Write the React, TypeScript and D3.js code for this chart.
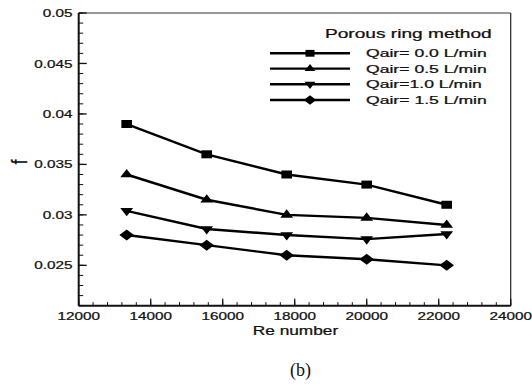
import React from "react";
import * as d3 from "d3";

// Re number at each measurement
const reNumbers = [13333, 15556, 17778, 20000, 22222];

const seriesLabels = ["Qair= 0.0 L/min", "Qair= 0.5 L/min", "Qair=1.0 L/min", "Qair= 1.5 L/min"];
const fAir00 = [0.039, 0.036, 0.034, 0.033, 0.031];
const fAir05 = [0.034, 0.0315, 0.030, 0.0297, 0.029];
const fAir10 = [0.0304, 0.0286, 0.028, 0.0276, 0.0281];
const fAir15 = [0.028, 0.027, 0.026, 0.0256, 0.025];

const xTicks = [12000, 14000, 16000, 18000, 20000, 22000, 24000];
const yTicks = [0.025, 0.03, 0.035, 0.04, 0.045, 0.05];
const yTickLabels = ["0.025", "0.03", "0.035", "0.04", "0.045", "0.05"];

const FONT = "'Liberation Sans', Arial, sans-serif";
const SX = 1.33; // the source picture is stretched sideways

const square = { draw: (p: any, size: number) => { const r = Math.sqrt(size) / 2; p.rect(-r, -r, 2 * r, 2 * r); } };
const symbols = [
  { type: square, size: 64, rot: 0 },
  { type: d3.symbolTriangle, size: 40, rot: 0 },
  { type: d3.symbolTriangle, size: 40, rot: 180 },
  { type: d3.symbolDiamond2, size: 77, rot: 0 },
];

const Marker = ({ x, y, idx, k = 1 }: { x: number; y: number; idx: number; k?: number }) => {
  const s = symbols[idx];
  const d = d3.symbol(s.type as any, s.size * k * k)() as string;
  return <path d={d} fill="black" transform={`translate(${x},${y}) scale(${SX},1) rotate(${s.rot})`} />;
};

const SText = ({ x, y, sx = SX, size, anchor = "start", children, rotate = 0 }: any) => (
  <g transform={`translate(${x},${y}) scale(${sx},1) rotate(${rotate})`}>
    <text fontFamily={FONT} fontSize={size} textAnchor={anchor} fill="#111" stroke="#111" strokeWidth={0.25}>{children}</text>
  </g>
);

const App = () => {
  const width = 532;
  const height = 384;
  const left = 78.7, right = 510.7, top = 13, bottom = 305.7;

  const x = d3.scaleLinear().domain([12000, 24000]).range([left, right]);
  const y = d3.scaleLinear().domain([0.021, 0.05]).range([bottom, top]);

  const series = [fAir00, fAir05, fAir10, fAir15];
  const line = d3.line<number>().x((_, i) => x(reNumbers[i])).y(d => y(d));

  const xMinor = d3.range(12000, 24001, 400);
  const yMinor = d3.range(21, 50.5, 1).map(v => v / 1000);

  const legendRows = [53.3, 68.6, 84.2, 100];

  return (
    <svg width={width} height={height} style={{ position: "absolute", left: 0, top: 0, background: "white" }}>
      {/* frame */}
      <line x1={left} x2={right} y1={top} y2={top} stroke="#333" strokeWidth={1.2} />
      <line x1={right} x2={right} y1={top} y2={bottom} stroke="#222" strokeWidth={1.2} />

      {/* minor ticks */}
      {xMinor.map(d => (
        <line key={"xm" + d} x1={x(d)} x2={x(d)} y1={bottom} y2={bottom - 3.5} stroke="#111" strokeWidth={1} />
      ))}
      {yMinor.map(d => (
        <line key={"ym" + d} x1={left} x2={left + 4.5} y1={y(d)} y2={y(d)} stroke="#111" strokeWidth={1} />
      ))}
      {/* major ticks + labels */}
      {xTicks.map(d => (
        <g key={"x" + d}>
          <line x1={x(d)} x2={x(d)} y1={bottom} y2={bottom - 7} stroke="#111" strokeWidth={1.3} />
          <SText x={x(d)} y={319.5} size={11.5} anchor="middle">{d}</SText>
        </g>
      ))}
      {yTicks.map((d, i) => (
        <g key={"y" + d}>
          <line x1={left} x2={left + 8} y1={y(d)} y2={y(d)} stroke="#111" strokeWidth={1.3} />
          <SText x={72.5} y={y(d) + 4.1} size={11.5} anchor="end">{yTickLabels[i]}</SText>
        </g>
      ))}

      {/* axes */}
      <line x1={left} x2={left} y1={top} y2={bottom} stroke="#111" strokeWidth={2} />
      <line x1={left} x2={right} y1={bottom} y2={bottom} stroke="#111" strokeWidth={2} />

      <SText x={295.5} y={335} size={13} anchor="middle">Re number</SText>
      <SText x={26.5} y={162} size={17} anchor="middle" rotate={-90}>f</SText>

      {/* series */}
      {series.map((s, si) => (
        <g key={"s" + si}>
          <path d={line(s) as string} fill="none" stroke="black" strokeWidth={2.4} />
          {s.map((v, i) => <Marker key={i} x={x(reNumbers[i])} y={y(v)} idx={si} />)}
        </g>
      ))}

      {/* legend */}
      <SText x={325} y={37.5} size={12.5} sx={1.53}>Porous ring method</SText>
      {seriesLabels.map((lab, i) => (
        <g key={lab}>
          <line x1={270} x2={350} y1={legendRows[i]} y2={legendRows[i]} stroke="black" strokeWidth={2.4} />
          <Marker x={310} y={legendRows[i]} idx={i} k={0.85} />
          <SText x={366} y={legendRows[i] + 4} size={11.5} sx={1.53}>{lab}</SText>
        </g>
      ))}

      <text x={300.5} y={375.5} fontFamily="'Liberation Serif', 'Times New Roman', serif" fontSize={18} textAnchor="middle" fill="#111">(b)</text>
    </svg>
  );
};

export default App;
